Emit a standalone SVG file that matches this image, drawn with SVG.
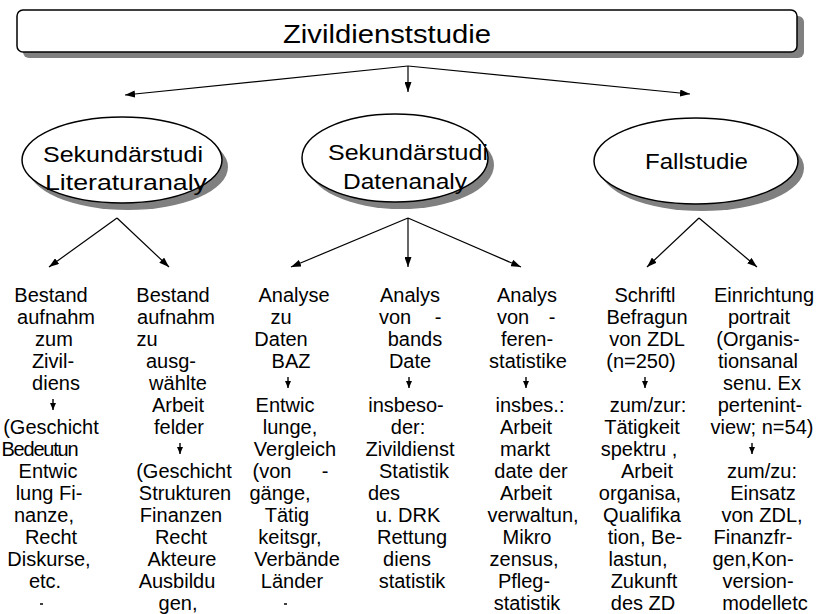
<svg xmlns="http://www.w3.org/2000/svg" width="817" height="614" viewBox="0 0 817 614">
  <defs>
    <marker id="ah" viewBox="0 0 10 7" refX="10" refY="3.5" markerWidth="10" markerHeight="7" markerUnits="userSpaceOnUse" orient="auto">
      <path d="M0,0 L10,3.5 L0,7 z" fill="#000"/>
    </marker>
    <marker id="ahs" viewBox="0 0 7 6" refX="7" refY="3" markerWidth="7" markerHeight="6" markerUnits="userSpaceOnUse" orient="auto">
      <path d="M0,0 L7,3 L0,6 z" fill="#000"/>
    </marker>
  </defs>
  <style>
    text { font-family: "Liberation Sans", Arial, sans-serif; fill: #000; }
    .col text { font-size: 20px; text-anchor: middle; }
    .head { font-size: 22px; }
    .title { font-size: 26px; }
    .shadow { fill: #808080; stroke: none; }
    .shape { fill: #fff; stroke: #000; stroke-width: 1.5; }
    .conn path { fill: none; stroke: #000; stroke-width: 1.2; marker-end: url(#ah); }
    .mini { fill: none; stroke: #000; stroke-width: 1.4; marker-end: url(#ahs); }
    .tick { stroke: #000; stroke-width: 1.5; }
  </style>
  <rect width="817" height="614" fill="#fff"/>

  <!-- top box -->
  <g id="zivildienststudie">
    <rect class="shadow" x="23" y="16" width="781" height="42" rx="6"/>
    <rect class="shape" x="17" y="10" width="780" height="42" rx="6"/>
    <text class="title" x="283" y="43" textLength="208" lengthAdjust="spacingAndGlyphs">Zivildienststudie</text>
  </g>

  <!-- study branches -->
  <g id="literaturanalyse">
    <ellipse class="shadow" cx="128" cy="167" rx="100" ry="43"/>
    <ellipse class="shape" cx="122" cy="160" rx="100" ry="43"/>
    <text class="head" x="43" y="162" textLength="160" lengthAdjust="spacingAndGlyphs">Sekundärstudi</text>
    <text class="head" x="45" y="190" textLength="162" lengthAdjust="spacingAndGlyphs">Literaturanaly</text>
  </g>
  <g id="datenanalyse">
    <ellipse class="shadow" cx="401" cy="165" rx="93" ry="44"/>
    <ellipse class="shape" cx="395" cy="158" rx="93" ry="44"/>
    <text class="head" x="328" y="160" textLength="160" lengthAdjust="spacingAndGlyphs">Sekundärstudi</text>
    <text class="head" x="343" y="189" textLength="124" lengthAdjust="spacingAndGlyphs">Datenanaly</text>
  </g>
  <g id="fallstudie">
    <ellipse class="shadow" cx="702" cy="168" rx="102" ry="43"/>
    <ellipse class="shape" cx="696" cy="161" rx="102" ry="43"/>
    <text class="head" x="645" y="169" textLength="103" lengthAdjust="spacingAndGlyphs">Fallstudie</text>
  </g>

  <!-- connectors -->
  <g id="connectors" class="conn">
    <path d="M408,66 L125,95"/>
    <path d="M408,66 L408,92"/>
    <path d="M408,66 L690,94"/>
    <path d="M117,218 L49,267"/>
    <path d="M117,218 L169,267"/>
    <path d="M408,218 L291,267"/>
    <path d="M408,218 L408,267"/>
    <path d="M408,218 L521,267"/>
    <path d="M699,218 L647,267"/>
    <path d="M699,218 L757,267"/>
  </g>

  <!-- column 1 -->
  <g id="bestand-zivildienst" class="col">
    <text x="51" y="302">Bestand</text>
    <text x="56" y="324">aufnahm</text>
    <text x="54" y="346">zum</text>
    <text x="53" y="368">Zivil-</text>
    <text x="56" y="390">diens</text>
    <path class="mini" d="M53,399 V410"/>
    <text x="51" y="434">(Geschicht</text>
    <text x="40" y="456" textLength="77" lengthAdjust="spacing">Bedeutun</text>
    <text x="48" y="478">Entwic</text>
    <text x="49" y="500">lung Fi-</text>
    <text x="44" y="522">nanze,</text>
    <text x="51" y="544">Recht</text>
    <text x="49" y="566">Diskurse,</text>
    <text x="45" y="588">etc.</text>
    <path class="tick" d="M40,604 h3"/>
  </g>

  <!-- column 2 -->
  <g id="bestand-arbeitsfelder" class="col">
    <text x="173" y="302">Bestand</text>
    <text x="176" y="324">aufnahm</text>
    <text x="147" y="346">zu</text>
    <text x="171" y="368">ausg-</text>
    <text x="178" y="390">wählte</text>
    <text x="178" y="412">Arbeit</text>
    <text x="179" y="434">felder</text>
    <path class="mini" d="M180,443 V454"/>
    <text x="184" y="478">(Geschicht</text>
    <text x="185" y="500">Strukturen</text>
    <text x="181" y="522">Finanzen</text>
    <text x="181" y="544">Recht</text>
    <text x="182" y="566">Akteure</text>
    <text x="177" y="588">Ausbildu</text>
    <text x="178" y="610">gen,</text>
  </g>

  <!-- column 3 -->
  <g id="analyse-baz" class="col">
    <text x="294" y="302">Analyse</text>
    <text x="281" y="324">zu</text>
    <text x="281" y="346">Daten</text>
    <text x="291" y="368">BAZ</text>
    <path class="mini" d="M288,377 V388"/>
    <text x="285" y="412">Entwic</text>
    <text x="290" y="434">lunge,</text>
    <text x="295" y="456">Vergleich</text>
    <text x="272" y="478">(von</text>
    <text x="325" y="478">-</text>
    <text x="280" y="500">gänge,</text>
    <text x="287" y="522">Tätig</text>
    <text x="290" y="544">keitsgr,</text>
    <text x="297" y="566">Verbände</text>
    <text x="292" y="588">Länder</text>
    <path class="tick" d="M284,604 h3"/>
  </g>

  <!-- column 4 -->
  <g id="analyse-verbandsdaten" class="col">
    <text x="410" y="302">Analys</text>
    <text x="395" y="324">von</text>
    <text x="438" y="324">-</text>
    <text x="415" y="346">bands</text>
    <text x="410" y="368">Date</text>
    <path class="mini" d="M409,377 V388"/>
    <text x="406" y="412">insbeso-</text>
    <text x="408" y="434">der:</text>
    <text x="410" y="456">Zivildienst</text>
    <text x="414" y="478">Statistik</text>
    <text x="384" y="500">des</text>
    <text x="408" y="522">u. DRK</text>
    <text x="412" y="544">Rettung</text>
    <text x="407" y="566">diens</text>
    <text x="412" y="588">statistik</text>
  </g>

  <!-- column 5 -->
  <g id="analyse-referenzstatistik" class="col">
    <text x="527" y="302">Analys</text>
    <text x="513" y="324">von</text>
    <text x="552" y="324">-</text>
    <text x="527" y="346">feren-</text>
    <text x="528" y="368">statistike</text>
    <path class="mini" d="M526,377 V388"/>
    <text x="530" y="412">insbes.:</text>
    <text x="526" y="434">Arbeit</text>
    <text x="525" y="456">markt</text>
    <text x="531" y="478">date der</text>
    <text x="526" y="500">Arbeit</text>
    <text x="533" y="522">verwaltun,</text>
    <text x="527" y="544">Mikro</text>
    <text x="524" y="566">zensus,</text>
    <text x="524" y="588">Pfleg-</text>
    <text x="527" y="610">statistik</text>
  </g>

  <!-- column 6 -->
  <g id="befragung-zdl" class="col">
    <text x="645" y="302">Schriftl</text>
    <text x="647" y="324">Befragun</text>
    <text x="647" y="346">von ZDL</text>
    <text x="641" y="368">(n=250)</text>
    <path class="mini" d="M645,377 V388"/>
    <text x="648" y="412">zum/zur:</text>
    <text x="642" y="434">Tätigkeit</text>
    <text x="639" y="456">spektru ,</text>
    <text x="647" y="478">Arbeit</text>
    <text x="640" y="500">organisa,</text>
    <text x="642" y="522">Qualifika</text>
    <text x="645" y="544">tion, Be-</text>
    <text x="638" y="566">lastun,</text>
    <text x="644" y="588">Zukunft</text>
    <text x="643" y="610">des ZD</text>
  </g>

  <!-- column 7 -->
  <g id="einrichtungsportrait" class="col">
    <text x="764" y="302">Einrichtung</text>
    <text x="759" y="324">portrait</text>
    <text x="758" y="346">(Organis-</text>
    <text x="758" y="368">tionsanal</text>
    <text x="762" y="390">senu. Ex</text>
    <text x="760" y="412">pertenint-</text>
    <text x="762" y="434">view; n=54)</text>
    <path class="mini" d="M752,443 V454"/>
    <text x="762" y="478">zum/zu:</text>
    <text x="763" y="500">Einsatz</text>
    <text x="762" y="522">von ZDL,</text>
    <text x="753" y="544">Finanzfr-</text>
    <text x="753" y="566">gen,Kon-</text>
    <text x="758" y="588">version-</text>
    <text x="765" y="610">modelletc</text>
  </g>
</svg>
